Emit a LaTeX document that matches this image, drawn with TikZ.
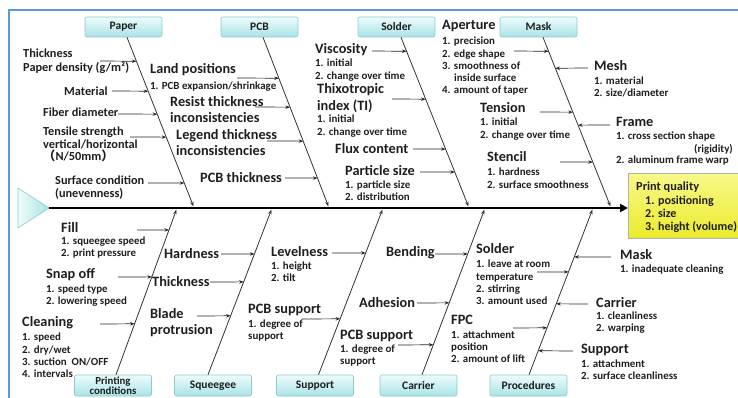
\documentclass[tikz,border=0pt]{standalone}
\usepackage{fontspec}
\setmainfont{Carlito}
\newfontfamily\cjk{Noto Sans CJK JP}
\usetikzlibrary{calc,arrows.meta}
\definecolor{frameblue}{HTML}{5B9BD5}
\definecolor{boxtop}{HTML}{EEFCFC}
\definecolor{boxbot}{HTML}{A9E3E6}
\definecolor{boxline}{HTML}{8CC9CE}
\definecolor{pqtop}{HTML}{F8F88A}
\definecolor{pqbot}{HTML}{EBEB2C}
\definecolor{ink}{HTML}{1E1E1E}
\begin{document}
\begin{tikzpicture}[x=1pt,y=-1pt,
  hd/.style={anchor=west,inner sep=0pt,text=ink,font=\fontsize{14.3}{16}\selectfont\bfseries,align=left},
  itm/.style={anchor=west,inner sep=0pt,text=ink,font=\fontsize{10.9}{12.3}\selectfont\bfseries,align=left},
  lbl/.style={anchor=west,inner sep=0pt,text=ink,font=\fontsize{12.3}{13.5}\selectfont\bfseries,align=left},
  cat/.style={draw=boxline,line width=0.6pt,rounded corners=2pt,top color=boxtop,bottom color=boxbot,
     minimum width=77pt,minimum height=20pt,inner sep=0pt,text=ink,font=\fontsize{11.5}{12}\selectfont\bfseries},
  bone/.style={draw=black!80,line width=0.8pt,-{Stealth[length=5pt,width=3.6pt]}},
  sub/.style={draw=black!85,line width=0.7pt,-{Stealth[length=4.5pt,width=3.4pt]}},
  spine/.style={draw=black,line width=2.6pt,-{Triangle[length=8pt,width=8pt]}},
]
\useasboundingbox (0,0) rectangle (738,398);
% frame
\draw[frameblue,line width=2pt] (9,398) -- (9,10) -- (738,10);

% head triangle and print quality box
\path[draw=boxline,line width=0.6pt,left color=boxtop,right color=boxbot] (18,188) -- (49,208) -- (18,228) -- cycle;
\coordinate (apex) at (49,208);
\node[draw=black!30,line width=0.6pt,top color=pqtop,bottom color=pqbot,anchor=north west,
      minimum width=118pt,minimum height=65pt,inner sep=0pt] (pq) at (628,173) {};
\node[anchor=west,inner sep=0pt,text=ink,font=\fontsize{12.3}{13}\selectfont\bfseries] (pqh) at (636,187) {Print quality};
\node[anchor=west,inner sep=0pt,text=ink,font=\fontsize{12}{13}\selectfont\bfseries,align=left] (pqi) at (645,214) {1. positioning\\2. size\\3. height (volume)};
\draw[spine] (apex) -- (apex -| pq.west);

% category boxes
\node[cat] (paper) at (123.5,27) {Paper};
\node[cat] (pcb) at (259.5,27) {PCB};
\node[cat] (solder) at (396.5,27) {Solder};
\node[cat] (mask) at (538.5,27) {Mask};
\node[cat,minimum height=21pt,align=center,font=\fontsize{10.8}{9}\selectfont\bfseries] (prc) at (113,385.5) {Printing\\conditions};
\node[cat,minimum height=21pt] (sqg) at (213,385.5) {Squeegee};
\node[cat,minimum height=21pt] (sup) at (315,385.5) {Support};
\node[cat,minimum height=21pt] (car) at (418.5,385.5) {Carrier};
\node[cat,minimum height=21pt] (pro) at (528.5,385.5) {Procedures};

% bone coordinates
\coordinate (paperS) at ($(paper.south)+(3.5,0)$);   \coordinate (paperE) at (193.5,206.5);
\coordinate (pcbS)   at ($(pcb.south)+(3.5,0)$);     \coordinate (pcbE)   at (328.5,206.5);
\coordinate (solS)   at ($(solder.south)+(4.5,0)$);  \coordinate (solE)   at (468.5,206.5);
\coordinate (maskS)  at ($(mask.south)+(4.5,0)$);    \coordinate (maskE)  at (610.5,206.5);
\coordinate (prS)  at ($(prc.north)+(3,0)$);  \coordinate (prE)  at (176.5,209.5);
\coordinate (sqS)  at ($(sqg.north)+(-5,0)$); \coordinate (sqE)  at (271.5,209.5);
\coordinate (suS)  at ($(sup.north)+(3.5,0)$);\coordinate (suE)  at (382.5,209.5);
\coordinate (caS)  at ($(car.north)+(3.5,0)$);\coordinate (caE)  at (484.5,209.5);
\coordinate (proS) at ($(pro.north)+(0.5,0)$);\coordinate (proE) at (592.5,209.5);

\foreach \b in {paper,pcb,sol,mask,pr,sq,su,ca,pro} {\draw[bone] (\b S) -- (\b E);}

% ---------- Paper ----------
\node[lbl,font=\fontsize{12.3}{14}\selectfont\bfseries] (t1) at (23,61) {Thickness\\Paper density (g/m²)};
\node[lbl] (t2) at (64,91) {Material};
\node[lbl,font=\fontsize{12.3}{12.5}\selectfont\bfseries] (t3) at (43,112) {Fiber diameter};
\node[lbl,font=\fontsize{12.3}{12.5}\selectfont\bfseries] (t4) at (43,144.5) {Tensile strength\\vertical/horizontal\\{\cjk （}N/50mm{\cjk ）}};
\node[lbl] (t5) at (55,187.5) {Surface condition\\(unevenness)};
\draw[sub] (100,61) -- ($(paperS)!{(61-37)/169.5}!(paperE)$);
\draw[sub] (112,91) -- ($(paperS)!{(91-37)/169.5}!(paperE)$);
\draw[sub] (118,114) -- ($(paperS)!{(114-37)/169.5}!(paperE)$);
\draw[sub] (130,137) -- ($(paperS)!{(137-37)/169.5}!(paperE)$);
\draw[sub] (148,183) -- ($(paperS)!{(183-37)/169.5}!(paperE)$);

% ---------- PCB ----------
\node[hd] (p1) at (150,70) {Land positions};
\node[itm] (p1i) at (150,87) {1. PCB expansion/shrinkage};
\node[hd] (p2) at (170,110) {Resist thickness\\inconsistencies};
\node[hd] (p3) at (176,143) {Legend thickness\\inconsistencies};
\node[hd] (p4) at (200,178) {PCB thickness};
\draw[sub] (237,78) -- ($(pcbS)!{(78-37)/169.5}!(pcbE)$);
\draw[sub] (255,107) -- ($(pcbS)!{(107-37)/169.5}!(pcbE)$);
\draw[sub] (267,141) -- ($(pcbS)!{(141-37)/169.5}!(pcbE)$);
\draw[sub] (285,178) -- ($(pcbS)!{(178-37)/169.5}!(pcbE)$);

% ---------- Solder ----------
\node[hd] (s1) at (315,50) {Viscosity};
\node[itm,font=\fontsize{10.9}{13}\selectfont\bfseries] (s1i) at (315,70.5) {1. initial\\2. change over time};
\node[hd,font=\fontsize{14.3}{17}\selectfont\bfseries] (s2) at (317,98.5) {Thixotropic\\index (TI)};
\node[itm,font=\fontsize{10.9}{13}\selectfont\bfseries] (s2i) at (317,126.5) {1. initial\\2. change over time};
\node[hd] (s3) at (335,149) {Flux content};
\node[hd] (s4) at (345,171) {Particle size};
\node[itm,font=\fontsize{10.9}{12}\selectfont\bfseries] (s4i) at (345,191) {1. particle size\\2. distribution};
\draw[sub] (372,51) -- ($(solS)!{(51-37)/169.5}!(solE)$);
\draw[sub] (392,99) -- ($(solS)!{(99-37)/169.5}!(solE)$);
\draw[sub] (413,149) -- ($(solS)!{(149-37)/169.5}!(solE)$);
\draw[sub] (420,172) -- ($(solS)!{(172-37)/169.5}!(solE)$);

% ---------- Mask ----------
\node[hd] (m1) at (442,26) {Aperture};
\node[itm,font=\fontsize{10.9}{12.25}\selectfont\bfseries] (m1i) at (442,66.5) {1. precision\\2. edge shape\\3. smoothness of\\\hspace*{12pt}inside surface\\4. amount of taper};
\node[hd] (m2) at (594,66) {Mesh};
\node[itm,font=\fontsize{10.9}{12}\selectfont\bfseries] (m2i) at (594,87) {1. material\\2. size/diameter};
\node[hd] (m3) at (480,108) {Tension};
\node[itm,font=\fontsize{10.9}{13}\selectfont\bfseries] (m3i) at (480,129.5) {1. initial\\2. change over time};
\node[hd] (m4) at (616,122) {Frame};
\node[itm] (m4a) at (616,137) {1. cross section shape};
\node[itm,anchor=east] (m4b) at (733,149) {(rigidity)};
\node[itm] (m4c) at (616,161) {2. aluminum frame warp};
\node[hd] (m5) at (487,157) {Stencil};
\node[itm,font=\fontsize{10.9}{13}\selectfont\bfseries] (m5i) at (487,178.5) {1. hardness\\2. surface smoothness};
\draw[sub] (514,51) -- ($(maskS)!{(51-37)/169.5}!(maskE)$);
\draw[sub] (588,68) -- ($(maskS)!{(68-37)/169.5}!(maskE)$);
\draw[sub] (540,112) -- ($(maskS)!{(112-37)/169.5}!(maskE)$);
\draw[sub] (610,125) -- ($(maskS)!{(125-37)/169.5}!(maskE)$);
\draw[sub] (560,162) -- ($(maskS)!{(162-37)/169.5}!(maskE)$);

% ---------- Printing conditions ----------
\node[hd] (c1) at (61,227) {Fill};
\node[itm,font=\fontsize{10.9}{12}\selectfont\bfseries] (c1i) at (61,248) {1. squeegee speed\\2. print pressure};
\node[hd] (c2) at (46,275) {Snap off};
\node[itm,font=\fontsize{10.9}{12}\selectfont\bfseries] (c2i) at (46,296) {1. speed type\\2. lowering speed};
\node[hd] (c3) at (22,323) {Cleaning};
\node[itm] (c3i) at (22,355.5) {1. speed\\2. dry/wet\\3. suction\ \ ON/OFF\\4. intervals};
\draw[sub] (137,230) -- ($(prS)!{(375-230)/165.5}!(prE)$);
\draw[sub] (118,277) -- ($(prS)!{(375-277)/165.5}!(prE)$);
\draw[sub] (100,324) -- ($(prS)!{(375-324)/165.5}!(prE)$);

% ---------- Squeegee ----------
\node[hd] (q1) at (164,254) {Hardness};
\node[hd] (q2) at (152,282) {Thickness};
\node[hd] (q3) at (150,323) {Blade\\protrusion};
\draw[sub] (221,254) -- ($(sqS)!{(375-254)/165.5}!(sqE)$);
\draw[sub] (210,282) -- ($(sqS)!{(375-282)/165.5}!(sqE)$);
\draw[sub] (197,316) -- ($(sqS)!{(375-316)/165.5}!(sqE)$);

% ---------- Support ----------
\node[hd] (u1) at (271,252) {Levelness};
\node[itm,font=\fontsize{10.9}{12}\selectfont\bfseries] (u1i) at (271,272) {1. height\\2. tilt};
\node[hd] (u2) at (248,310) {PCB support};
\node[itm,font=\fontsize{10.9}{12}\selectfont\bfseries] (u2i) at (248,331) {1. degree of\\support};
\draw[sub] (332,253) -- ($(suS)!{(375-253)/165.5}!(suE)$);
\draw[sub] (302,319) -- ($(suS)!{(375-319)/165.5}!(suE)$);

% ---------- Carrier ----------
\node[hd] (r1) at (386,253) {Bending};
\node[hd] (r2) at (359,303) {Adhesion};
\node[hd] (r3) at (340,336) {PCB support};
\node[itm,font=\fontsize{10.9}{12}\selectfont\bfseries] (r3i) at (340,356) {1. degree of\\support};
\draw[sub] (435,254) -- ($(caS)!{(375-254)/165.5}!(caE)$);
\draw[sub] (417,303) -- ($(caS)!{(375-303)/165.5}!(caE)$);
\draw[sub] (398,345) -- ($(caS)!{(375-345)/165.5}!(caE)$);

% ---------- Procedures ----------
\node[hd] (d1) at (476,249) {Solder};
\node[itm] (d1i) at (476,282.5) {1. leave at room\\temperature\\2. stirring\\3. amount used};
\node[hd] (d2) at (620,255) {Mask};
\node[itm] (d2i) at (620,270) {1. inadequate cleaning};
\node[hd] (d3) at (596,303) {Carrier};
\node[itm,font=\fontsize{10.9}{12}\selectfont\bfseries] (d3i) at (596,323) {1. cleanliness\\2. warping};
\node[hd] (d4) at (451,320) {FPC};
\node[itm,font=\fontsize{10.9}{12}\selectfont\bfseries] (d4i) at (451,347) {1. attachment\\position\\2. amount of lift};
\node[hd] (d5) at (581,350) {Support};
\node[itm,font=\fontsize{10.9}{12}\selectfont\bfseries] (d5i) at (581,370) {1. attachment\\2. surface cleanliness};
\draw[sub] (537,272) -- ($(proS)!{(375-272)/165.5}!(proE)$);
\draw[sub] (611,257) -- ($(proS)!{(375-257)/165.5}!(proE)$);
\draw[sub] (588,304) -- ($(proS)!{(375-304)/165.5}!(proE)$);
\draw[sub] (513,328) -- ($(proS)!{(375-328)/165.5}!(proE)$);
\draw[sub] (573,351) -- ($(proS)!{(375-351)/165.5}!(proE)$);
\end{tikzpicture}
\end{document}
